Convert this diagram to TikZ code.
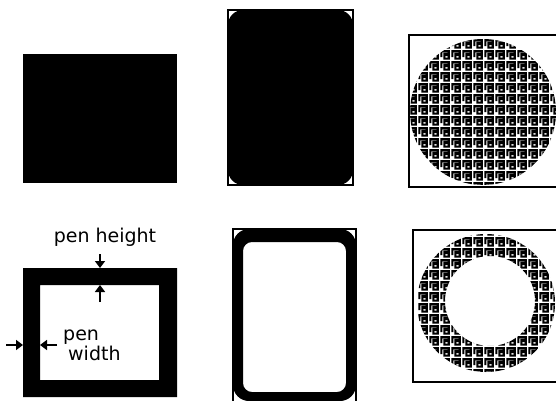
\documentclass[tikz,border=0pt]{standalone}
\usepackage{fontspec}
\setsansfont{DejaVu Sans}
\usepackage{tikz}
\usetikzlibrary{arrows.meta, patterns}

% greek-key fill used by the two ovals
\pgfdeclarepatternformonly{fret}{\pgfqpoint{0pt}{0pt}}{\pgfqpoint{11pt}{11pt}}{\pgfqpoint{11pt}{11pt}}{%
  \pgfsetlinewidth{2.3pt}%
  \pgfsetmiterjoin
  \pgfpathmoveto{\pgfqpoint{1.5pt}{3.2pt}}%
  \pgfpathlineto{\pgfqpoint{1.5pt}{9.5pt}}%
  \pgfpathlineto{\pgfqpoint{9.5pt}{9.5pt}}%
  \pgfpathlineto{\pgfqpoint{9.5pt}{1.5pt}}%
  \pgfpathlineto{\pgfqpoint{4.8pt}{1.5pt}}%
  \pgfpathlineto{\pgfqpoint{4.8pt}{6.6pt}}%
  \pgfpathlineto{\pgfqpoint{6.9pt}{6.6pt}}%
  \pgfpathlineto{\pgfqpoint{6.9pt}{4.3pt}}%
  \pgfusepath{stroke}%
}

\begin{document}
\begin{tikzpicture}[x=1pt, y=-1pt, every node/.style={font=\sffamily\fontsize{19}{20}\selectfont, inner sep=0pt},
    thinframe/.style={draw, line width=1.3pt},
    penarrow/.style={-{Triangle[length=7pt, width=10pt]}, line width=1.6pt}]
  \useasboundingbox (0,0) rectangle (556,400);
  \clip (0,0) rectangle (556,400);

  % paintRect
  \fill (23,54) rectangle (177,183);
  % paintRoundRect
  \draw[thinframe] (228,10) rectangle (353,185);
  \fill[rounded corners=15pt] (228,10) rectangle (353,185);
  % fillOval
  \draw[thinframe] (409,35) rectangle (570,187);
  \begin{scope}
    \clip (409,35) rectangle (570,187);
    \fill[pattern=fret] (483,112) circle[radius=73pt];
  \end{scope}

  % frameRect with pen size
  \fill[even odd rule] (23,268) rectangle (177,397) (40,285) rectangle (159,380);
  \node[anchor=base] (ph) at (105,242) {pen height};
  \coordinate (phTop) at (100,254);
  \coordinate (phEdge) at (100,268);
  \coordinate (phInner) at (100,285);
  \coordinate (phLow) at (100,302);
  \draw[penarrow] (phTop) -- (phEdge);
  \draw[penarrow] (phLow) -- (phInner);
  \node[anchor=north west, align=left] (pw) at (63,330) {pen\\\hspace*{5pt}width};
  \coordinate (pwOut) at (6,345);
  \coordinate (pwEdge) at (23,345);
  \coordinate (pwInner) at (40,345);
  \coordinate (pwIn) at (57,345);
  \draw[penarrow] (pwOut) -- (pwEdge);
  \draw[penarrow] (pwIn) -- (pwInner);

  % frameRoundRect
  \draw[thinframe] (233,229) rectangle (356,410);
  \fill[even odd rule, rounded corners=16pt] (233,229) rectangle (356,401)
    [rounded corners=9pt] (243,242) rectangle (346,392);
  % frameOval
  \draw[thinframe] (413,230) rectangle (570,382);
  \begin{scope}
    \clip (413,230) rectangle (570,382);
    \fill[pattern=fret, even odd rule] (486,303) circle[radius=69pt] (490,301) circle[radius=45pt];
  \end{scope}
\end{tikzpicture}
\end{document}
